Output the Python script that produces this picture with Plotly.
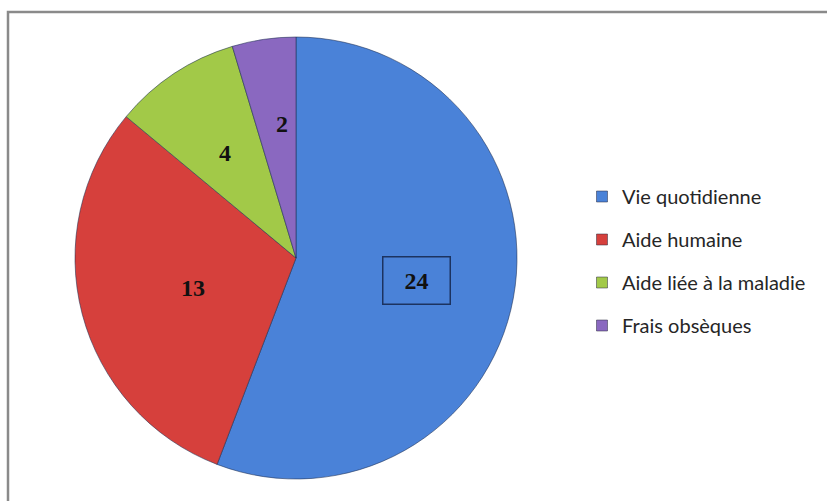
import numpy as np
import plotly.graph_objects as go

categories = ["Vie quotidienne", "Aide humaine", "Aide liée à la maladie", "Frais obsèques"]
values = [24, 13, 4, 2]
colors = ["#4a82d8", "#d6403c", "#a2c948", "#8a68c0"]
label_radius = [0.555, 0.545, 0.65, 0.68]   # radial position of each value label (fraction of R)
boxed = [True, False, False, False]

W, H = 827, 501
cx, cy, R = 296, 258, 221  # pie centre (px from left/top) and radius
dom_x = [(cx - R) / W, (cx + R) / W]
dom_y = [(H - cy - R) / H, (H - cy + R) / H]

fig = go.Figure()
fig.add_trace(go.Pie(
    labels=categories, values=values, sort=False, direction="clockwise", rotation=0,
    marker=dict(colors=colors, line=dict(color="rgba(30,45,80,0.55)", width=1)),
    textinfo="none", textposition="none",
    domain=dict(x=dom_x, y=dom_y), showlegend=False, hoverinfo="label+value",
))

for cat, col in zip(categories, colors):
    fig.add_trace(go.Scatter(
        x=[None], y=[None], mode="markers", name=cat, legendgroup=cat,
        marker=dict(symbol="square", size=11, color=col,
                    line=dict(color="rgba(40,40,60,0.5)", width=1)),
    ))

# value labels, placed at each slice's mid-angle
tot = sum(values)
cum = np.cumsum([0] + values[:-1])
for v, c0, rf, bx in zip(values, cum, label_radius, boxed):
    theta = np.deg2rad((c0 + v / 2) / tot * 360)
    px = cx + rf * R * np.sin(theta)
    py = cy - rf * R * np.cos(theta)
    ann = dict(
        x=px / W, y=1 - py / H, xref="paper", yref="paper", showarrow=False,
        text=str(v),
        font=dict(family="Liberation Serif", size=24, color="#111111", weight="bold"),
    )
    if bx:
        ann.update(bordercolor="#1c3360", borderwidth=1.5, borderpad=3, width=60, height=40)
    fig.add_annotation(**ann)

fig.update_layout(
    width=W, height=H, margin=dict(l=0, r=0, t=0, b=0),
    paper_bgcolor="white", plot_bgcolor="white",
    xaxis=dict(visible=False), yaxis=dict(visible=False),
    legend=dict(x=582 / W, xanchor="left", y=1 - 261 / H, yanchor="middle",
                font=dict(family="Lato", size=20, color="#262626"),
                tracegroupgap=14, itemwidth=30, bgcolor="rgba(0,0,0,0)"),
    shapes=[dict(type="rect", xref="paper", yref="paper",
                 x0=8 / W, x1=1.05, y0=-0.05, y1=1 - 12 / H,
                 line=dict(color="#8a8a8a", width=2.5))],
)

fig.write_html("out.html", config={"displayModeBar": False},
               post_script="document.body.style.margin='0px';")
